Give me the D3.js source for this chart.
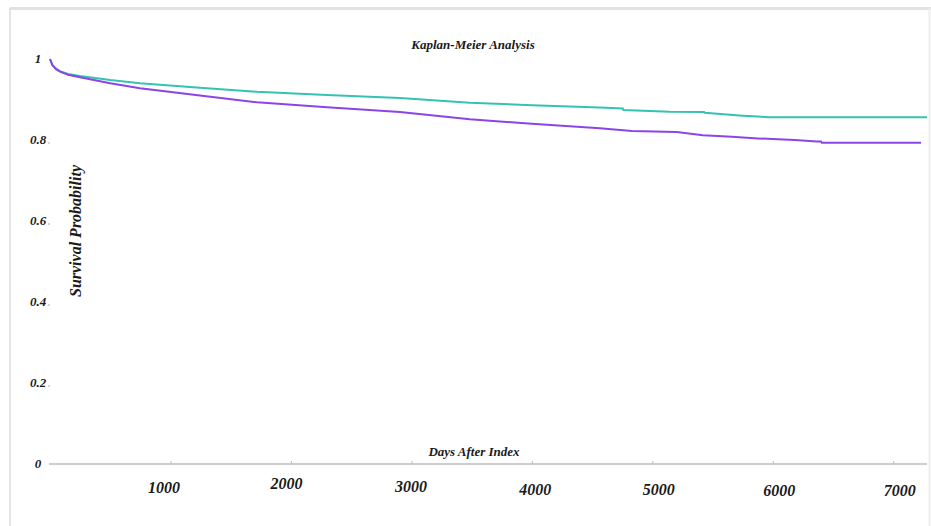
<!DOCTYPE html>
<html>
<head>
<meta charset="utf-8">
<script src="https://cdn.jsdelivr.net/npm/d3@7/dist/d3.min.js"></script>
<style>
  html, body { margin: 0; padding: 0; background: #fff; }
  svg { display: block; }
  text { font-family: "Liberation Serif", "Times New Roman", serif; font-weight: bold; font-style: italic; fill: #1a1a1a; }
</style>
</head>
<body>
<svg id="chart" width="931" height="526"></svg>
<script>
// Kaplan-Meier survival estimates: [days after index, survival probability]
const groupA = [
  [0, 1.0], [20, 0.985], [50, 0.976], [83, 0.970], [150, 0.963], [249, 0.958],
  [500, 0.948], [747, 0.940], [1245, 0.929], [1718, 0.919], [2300, 0.911],
  [2905, 0.904], [3485, 0.892], [4000, 0.886], [4564, 0.880], [4755, 0.878],
  [4760, 0.874], [5145, 0.870], [5430, 0.869], [5436, 0.867], [5618, 0.863],
  [5751, 0.860], [5876, 0.858], [5959, 0.856], [7280, 0.856]
];
const groupB = [
  [0, 1.0], [20, 0.985], [50, 0.975], [83, 0.969], [150, 0.961], [249, 0.955],
  [500, 0.940], [747, 0.928], [1245, 0.910], [1718, 0.893], [2300, 0.881],
  [2905, 0.869], [3485, 0.851], [4000, 0.840], [4564, 0.829], [4830, 0.822],
  [5203, 0.820], [5419, 0.812], [5660, 0.808], [5876, 0.804], [6183, 0.800],
  [6365, 0.796], [6400, 0.796], [6407, 0.793], [7230, 0.793]
];
const xTicks = [1000, 2000, 3000, 4000, 5000, 6000, 7000];
const yTicks = [0, 0.2, 0.4, 0.6, 0.8, 1];
const yTickLabels = ["0", "0.2", "0.4", "0.6", "0.8", "1"];
// hand-placed label offsets (px) for the day labels under the axis
const xLabelDx = [-7, -5, -1, 3, 6, 6, 6];
const xLabelDy = [-1.5, -5, -2.5, 0.5, 0.5, 2, 2];

const svg = d3.select("#chart");

// page frame
svg.append("line").attr("x1", 10).attr("x2", 931).attr("y1", 8.5).attr("y2", 8.5)
  .attr("stroke", "#e2e2e2").attr("stroke-width", 3);
svg.append("line").attr("x1", 10).attr("x2", 10).attr("y1", 8).attr("y2", 526)
  .attr("stroke", "#dcdcdc").attr("stroke-width", 1.5);
svg.append("line").attr("x1", 929.5).attr("x2", 929.5).attr("y1", 8).attr("y2", 526)
  .attr("stroke", "#eeeeee").attr("stroke-width", 2);

const x = d3.scaleLinear().domain([0, 7280]).range([50, 927]);
const y = d3.scaleLinear().domain([0, 1]).range([464, 59]);

// x axis
const xAxis = svg.append("g").attr("transform", `translate(0,${y(0)})`)
  .call(d3.axisBottom(x).tickValues(xTicks).tickSize(-3).tickFormat(d3.format("d")));
xAxis.select(".domain").attr("stroke", "#bdbdbd").attr("stroke-width", 1.5)
  .attr("d", `M${x(0) - 1},0H${x.range()[1]}`);
xAxis.selectAll(".tick line").attr("stroke", "#bdbdbd");
xAxis.selectAll(".tick text")
  .attr("y", (d, i) => 19 + xLabelDy[i]).attr("dx", (d, i) => xLabelDx[i])
  .style("font-size", "16px")
  .style("font-family", "'Liberation Serif', serif")
  .style("font-weight", "bold").style("font-style", "italic")
  .attr("fill", "#1a1a1a");

// y axis: labels with tiny tick marks, no spine
const yAxis = svg.append("g");
yAxis.selectAll("text.ylab").data(yTicks).join("text")
  .attr("class", "ylab")
  .attr("x", 38).attr("y", d => y(d) + 4)
  .attr("text-anchor", "middle")
  .style("font-size", "13px")
  .text((d, i) => yTickLabels[i]);
yAxis.selectAll("line.ytick").data(yTicks.filter(d => d > 0 && d < 1)).join("line")
  .attr("class", "ytick")
  .attr("x1", 48).attr("x2", 50)
  .attr("y1", d => y(d) + 3).attr("y2", d => y(d) + 3)
  .attr("stroke", "#aaa").attr("stroke-width", 1);

// survival curves
const line = d3.line().x(d => x(d[0])).y(d => y(d[1])).curve(d3.curveLinear);
svg.append("path").datum(groupA).attr("d", line)
  .attr("fill", "none").attr("stroke", "#35c2b2").attr("stroke-width", 2);
svg.append("path").datum(groupB).attr("d", line)
  .attr("fill", "none").attr("stroke", "#8b45e6").attr("stroke-width", 2);

// titles
svg.append("text").attr("x", 473).attr("y", 49).attr("text-anchor", "middle")
  .style("font-size", "13px").text("Kaplan-Meier Analysis");
svg.append("text").attr("x", 474).attr("y", 456).attr("text-anchor", "middle")
  .style("font-size", "13px").text("Days After Index");
svg.append("text")
  .attr("transform", "translate(81,231) rotate(-90)")
  .attr("text-anchor", "middle")
  .style("font-size", "16px").text("Survival Probability");
</script>
</body>
</html>
